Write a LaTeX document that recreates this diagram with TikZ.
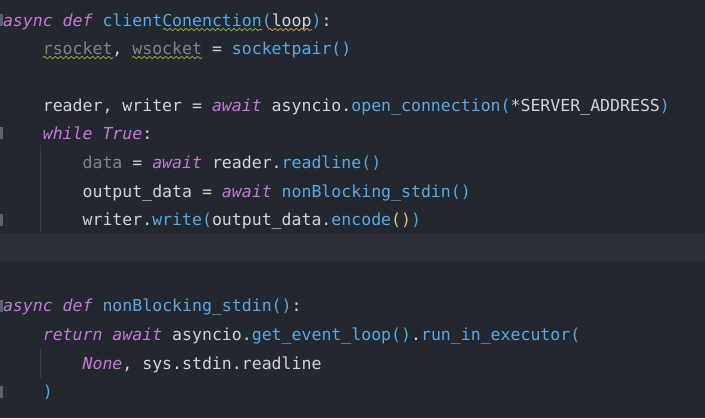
\documentclass[tikz,border=0pt]{standalone}
\usepackage{fontspec}
\setmonofont{DejaVu Sans Mono}
\usetikzlibrary{decorations.pathmorphing}
\definecolor{bg}{HTML}{23272E}
\definecolor{hl}{HTML}{2B2F37}
\definecolor{kw}{HTML}{C678DD}
\definecolor{fn}{HTML}{5AA8E6}
\definecolor{tx}{HTML}{D2D5DA}
\definecolor{gy}{HTML}{7F848E}
\definecolor{yl}{HTML}{E0C97A}
\definecolor{guide}{HTML}{3A3F48}
\definecolor{fold}{HTML}{5C6370}
\definecolor{sqg}{HTML}{8FA84C}
\definecolor{sqo}{HTML}{C9955A}
\newcommand{\K}[1]{\textcolor{kw}{\itshape #1}}
\newcommand{\F}[1]{\textcolor{fn}{#1}}
\newcommand{\T}[1]{\textcolor{tx}{#1}}
\newcommand{\G}[1]{\textcolor{gy}{#1}}
\newcommand{\Y}[1]{\textcolor{yl}{#1}}
\tikzset{
  codeline/.style={anchor=base west, inner sep=0pt, outer sep=0pt, font=\ttfamily\fontsize{12.4pt}{14pt}\selectfont, text=tx},
  squig/.style={decorate, decoration={snake, amplitude=0.9, segment length=4}, line width=0.6pt},
  guideline/.style={draw=guide, line width=0.75pt},
  foldmark/.style={fill=fold}
}
\begin{document}
\begin{tikzpicture}[x=0.75pt, y=-0.75pt]
\fill[bg] (0,0) rectangle (705,418);
\useasboundingbox (0,0) rectangle (705,418);
% current line highlight
\fill[hl] (0,233) rectangle (705,262);
% indent guides
\draw[guideline] (40,145) -- (40,232);
\draw[guideline] (40,349) -- (40,378);
% fold markers
\foreach \yy in {20,133,220,306,392} {
  \fill[foldmark] (0,\yy-6) rectangle (2.5,\yy+6);
}
% code lines (baseline = centre + 6)
\node[codeline] (l1) at (3,26) {\K{async def} \F{client}\F{Conenction}\F{(}\T{loop}\F{)}\T{:}};
\node[codeline] (l2) at (42.8,54) {\G{rsocket}\T{,} \G{wsocket} \T{=} \F{socketpair()}};
\node[codeline] (l4) at (42.8,111) {\T{reader, writer =} \K{await} \T{asyncio.}\F{open\_connection(}\T{*SERVER\_ADDRESS}\F{)}};
\node[codeline] (l5) at (42.8,139) {\K{while True}\T{:}};
\node[codeline] (l6) at (82.6,168) {\G{data} \T{=} \K{await} \T{reader.}\F{readline()}};
\node[codeline] (l7) at (82.6,197) {\T{output\_data =} \K{await} \F{nonBlocking\_stdin()}};
\node[codeline] (l8) at (82.6,225) {\T{writer.}\F{write(}\T{output\_data.}\F{encode}\Y{()}\F{)}};
\node[codeline] (l11) at (3,311) {\K{async def} \F{nonBlocking\_stdin()}\T{:}};
\node[codeline] (l12) at (42.8,340) {\K{return await} \T{asyncio.}\F{get\_event\_loop()}\T{.}\F{run\_in\_executor(}};
\node[codeline] (l13) at (82.6,369) {\K{None}\T{, sys.stdin.readline}};
\node[codeline] (l14) at (42.8,397) {\F{)}};
% squiggles
\draw[squig, draw=sqg] (163,29.5) -- (262,29.5);
\draw[squig, draw=sqo] (268,29.5) -- (312,29.5);
\draw[squig, draw=sqg] (43,57.5) -- (113,57.5);
\draw[squig, draw=sqg] (132,57.5) -- (202,57.5);
\end{tikzpicture}
\end{document}
